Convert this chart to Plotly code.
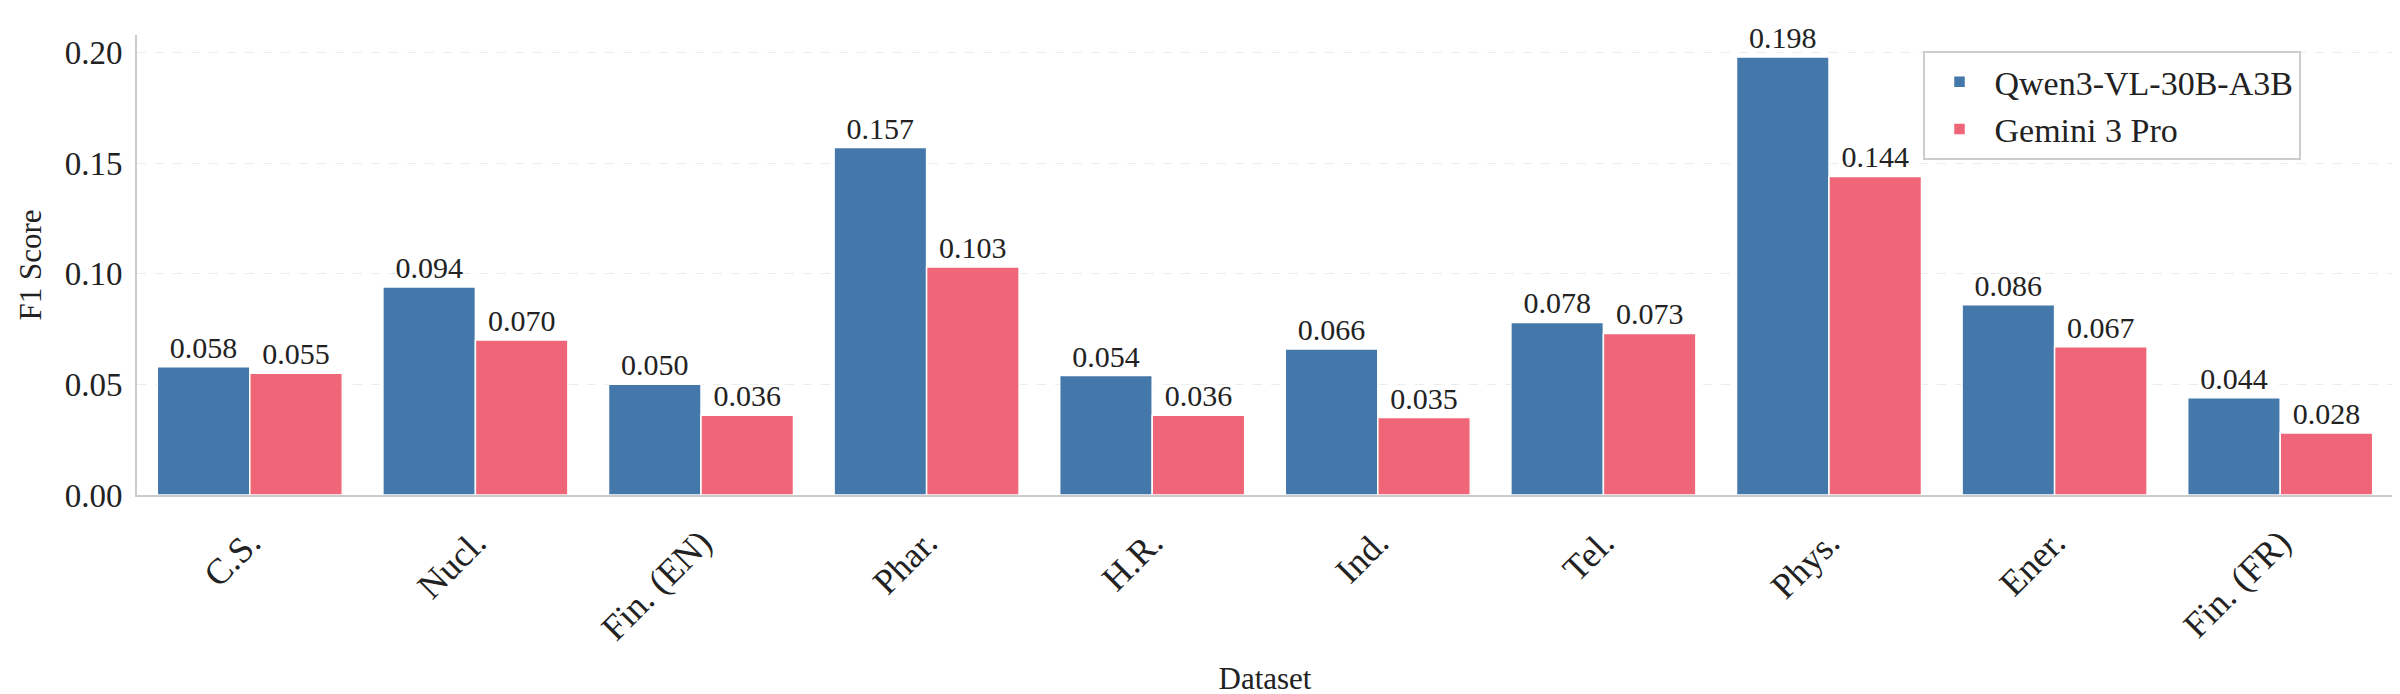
import plotly.graph_objects as go

datasets = ["C.S.", "Nucl.", "Fin. (EN)", "Phar.", "H.R.", "Ind.", "Tel.", "Phys.", "Ener.", "Fin. (FR)"]
qwen = [0.058, 0.094, 0.050, 0.157, 0.054, 0.066, 0.078, 0.198, 0.086, 0.044]
gemini = [0.055, 0.070, 0.036, 0.103, 0.036, 0.035, 0.073, 0.144, 0.067, 0.028]
y_ticks = [0.00, 0.05, 0.10, 0.15, 0.20]

font_family = "Liberation Serif"
text_color = "#222222"

fig = go.Figure()
for name, vals, color in [("Qwen3-VL-30B-A3B", qwen, "#4477AA"),
                          ("Gemini 3 Pro", gemini, "#EE6677")]:
    fig.add_trace(go.Bar(
        x=datasets, y=vals, name=name,
        marker=dict(color=color, line=dict(color="white", width=1.5)),
        texttemplate="%{y:.3f}", textposition="outside",
        textfont=dict(family=font_family, size=30, color=text_color),
        cliponaxis=False,
    ))

fig.update_layout(
    width=2400, height=694,
    barmode="group", bargap=0.18, bargroupgap=0,
    plot_bgcolor="white", paper_bgcolor="white",
    margin=dict(l=129, r=15, t=27, b=185),
    font=dict(family=font_family, color=text_color),
    legend=dict(
        x=0.959, y=0.965, xanchor="right", yanchor="top",
        font=dict(family=font_family, size=34, color=text_color),
        bordercolor="#cccccc", borderwidth=2, bgcolor="white",
        itemwidth=60,
    ),
)
fig.update_xaxes(
    title=dict(text="Dataset", font=dict(family=font_family, size=31), standoff=20),
    tickangle=-45, tickfont=dict(family=font_family, size=36),
    ticks="outside", ticklen=10, tickcolor="rgba(0,0,0,0)",
    showline=True, linecolor="#cccccc", linewidth=2,
    showgrid=False, range=[-0.5, 9.5],
)
fig.update_yaxes(
    title=dict(text="F1 Score", font=dict(family=font_family, size=31), standoff=14),
    range=[0, 0.2079], tickvals=y_ticks, tickformat=".2f",
    tickfont=dict(family=font_family, size=33),
    ticks="outside", ticklen=6, tickcolor="rgba(0,0,0,0)",
    showline=True, linecolor="#cccccc", linewidth=2,
    showgrid=True, gridcolor="#ececec", gridwidth=1, griddash="dash",
    zeroline=False,
)

fig.write_html("out.html")
